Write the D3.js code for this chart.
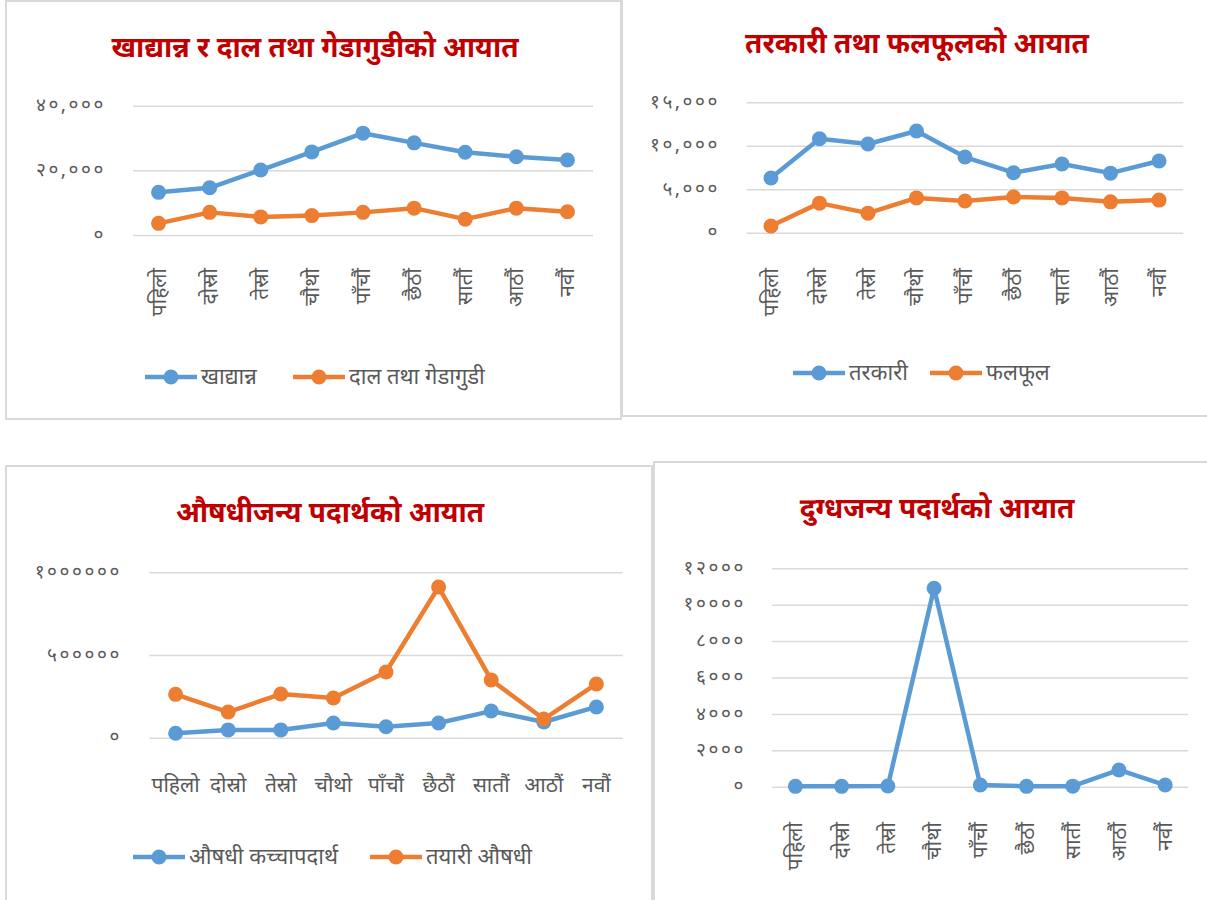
<!DOCTYPE html>
<html>
<head>
<meta charset="utf-8">
<script src="https://cdn.jsdelivr.net/npm/d3@7"></script>
<style>
  body { margin: 0; background: #fff; }
  text { font-family: "Noto Sans Devanagari", "Lohit Devanagari", "Noto Sans", "DejaVu Sans", sans-serif; }
</style>
</head>
<body>
<div id="chart"></div>
<script>
// categories (x axis)
let months = ["पहिलो", "दोस्रो", "तेस्रो", "चौथो", "पाँचौं", "छैठौं", "सातौं", "आठौं", "नवौं"];

// panel 1
let khadyanna = [13200, 14600, 20100, 25700, 31500, 28500, 25600, 24200, 23200];
let dal = [3600, 7000, 5600, 6000, 7000, 8300, 4900, 8300, 7200];
let ticks1 = [0, 20000, 40000];

// panel 2
let tarkari = [6300, 10800, 10200, 11700, 8700, 6900, 7900, 6850, 8250];
let phalphul = [770, 3400, 2250, 4000, 3650, 4100, 4000, 3550, 3750];
let ticks2 = [0, 5000, 10000, 15000];

// panel 3
let kachcha = [27000, 47000, 47000, 89000, 66000, 89000, 161000, 95000, 186000];
let tayari = [262000, 155000, 264000, 240000, 397000, 911000, 349000, 113000, 325000];
let ticks3 = [0, 500000, 1000000];

// panel 4
let dugdha = [20, 20, 40, 10900, 90, 20, 30, 920, 90];
let ticks4 = [0, 2000, 4000, 6000, 8000, 10000, 12000];

let blue = "#5B9BD5", orange = "#ED7D31";
let devDigits = "०१२३४५६७८९";
function toDev(s) {
    return String(s).replace(/[0-9]/g, function(c) { return devDigits[+c]; });
}

let svg = d3.select("#chart").append("svg")
    .attr("width", 1207)
    .attr("height", 900);

function drawPanel(p) {
    let g = svg.append("g");

    // panel frame
    g.append("rect")
        .attr("x", p.box[0]).attr("y", p.box[1])
        .attr("width", p.box[2]).attr("height", p.box[3])
        .attr("fill", "#fff")
        .attr("stroke", "#d9d9d9")
        .attr("stroke-width", 2);

    g.append("text")
        .attr("x", p.titleX)
        .attr("y", p.titleY)
        .attr("text-anchor", "middle")
        .attr("fill", "#C00000")
        .attr("font-size", 28)
        .attr("font-weight", "bold")
        .text(p.title);

    let x = d3.scaleBand().domain(months).range([p.x0, p.x1]);
    let y = d3.scaleLinear().domain([0, p.max]).range([p.y0, p.y1]);

    // gridlines
    g.append("g")
        .attr("transform", "translate(" + p.x0 + ",0)")
        .call(d3.axisLeft(y).tickValues(p.ticks).tickSize(-(p.x1 - p.x0)).tickFormat(""))
        .call(a => a.select(".domain").remove())
        .call(a => a.selectAll("line").attr("stroke", "#d9d9d9").attr("stroke-width", 1.5));

    // y tick labels
    g.append("g")
        .selectAll("text")
        .data(p.ticks)
        .enter()
        .append("text")
        .attr("x", p.labelX)
        .attr("y", d => y(d))
        .attr("dy", "0.3em")
        .attr("text-anchor", "end")
        .attr("fill", "#595959")
        .attr("font-size", 19)
        .attr("letter-spacing", 2.6)
        .text(d => toDev(p.fmt(d)));

    // x labels
    let xl = g.append("g").selectAll("text")
        .data(months)
        .enter()
        .append("text")
        .attr("fill", "#595959")
        .attr("font-size", 21)
        .text(d => d);
    if (p.rotate) {
        xl.attr("text-anchor", "end")
            .attr("transform", d => "translate(" + (x(d) + x.bandwidth() / 2 + 7) + "," + p.xLabelY + ") rotate(-90)");
    } else {
        xl.attr("text-anchor", "middle")
            .attr("x", d => x(d) + x.bandwidth() / 2)
            .attr("y", p.xLabelY);
    }

    let line = d3.line()
        .x((d, i) => x(months[i]) + x.bandwidth() / 2)
        .y(d => y(d));

    p.series.forEach(function(s) {
        g.append("path")
            .attr("d", line(s.values))
            .attr("fill", "none")
            .attr("stroke", s.color)
            .attr("stroke-width", 4.5)
            .attr("stroke-linejoin", "round");
        g.append("g").selectAll("circle")
            .data(s.values)
            .enter()
            .append("circle")
            .attr("cx", (d, i) => x(months[i]) + x.bandwidth() / 2)
            .attr("cy", d => y(d))
            .attr("r", 7.5)
            .attr("fill", s.color);
    });

    // legend
    if (p.legend) {
        p.series.forEach(function(s, i) {
            let lx = p.legend[i], ly = p.legendY;
            g.append("line")
                .attr("x1", lx).attr("x2", lx + 52)
                .attr("y1", ly).attr("y2", ly)
                .attr("stroke", s.color)
                .attr("stroke-width", 4.5);
            g.append("circle")
                .attr("cx", lx + 26).attr("cy", ly)
                .attr("r", 7.5)
                .attr("fill", s.color);
            g.append("text")
                .attr("x", lx + 56)
                .attr("y", ly)
                .attr("dy", "0.3em")
                .attr("fill", "#595959")
                .attr("font-size", 22)
                .text(s.name);
        });
    }
}

let comma = d3.format(",");
let plain = d3.format("d");

drawPanel({
    box: [6, 1, 615, 418],
    title: "खाद्यान्न र दाल तथा गेडागुडीको आयात", titleX: 315, titleY: 57,
    x0: 133, x1: 593, y0: 235, y1: 105.7, max: 40000, ticks: ticks1, fmt: comma, labelX: 106,
    rotate: true, xLabelY: 268,
    series: [{name: "खाद्यान्न", values: khadyanna, color: blue},
             {name: "दाल तथा गेडागुडी", values: dal, color: orange}],
    legend: [145, 293], legendY: 377
});

drawPanel({
    box: [622, -2, 590, 418],
    title: "तरकारी तथा फलफूलको आयात", titleX: 917, titleY: 53,
    x0: 746.7, x1: 1183.3, y0: 232.7, y1: 102.3, max: 15000, ticks: ticks2, fmt: comma, labelX: 720,
    rotate: true, xLabelY: 268,
    series: [{name: "तरकारी", values: tarkari, color: blue},
             {name: "फलफूल", values: phalphul, color: orange}],
    legend: [793, 930], legendY: 373
});

drawPanel({
    box: [6, 466, 646, 440],
    title: "औषधीजन्य पदार्थको आयात", titleX: 330, titleY: 522,
    x0: 149.3, x1: 622.7, y0: 737.7, y1: 572.3, max: 1000000, ticks: ticks3, fmt: plain, labelX: 122,
    rotate: false, xLabelY: 792,
    series: [{name: "औषधी कच्चापदार्थ", values: kachcha, color: blue},
             {name: "तयारी औषधी", values: tayari, color: orange}],
    legend: [133, 370], legendY: 857
});

drawPanel({
    box: [654, 462, 560, 445],
    title: "दुग्धजन्य पदार्थको आयात", titleX: 937, titleY: 518,
    x0: 772.3, x1: 1188.3, y0: 786.7, y1: 568.3, max: 12000, ticks: ticks4, fmt: plain, labelX: 746,
    rotate: true, xLabelY: 822,
    series: [{name: "दुग्धजन्य", values: dugdha, color: blue}],
    legend: null
});
</script>
</body>
</html>
